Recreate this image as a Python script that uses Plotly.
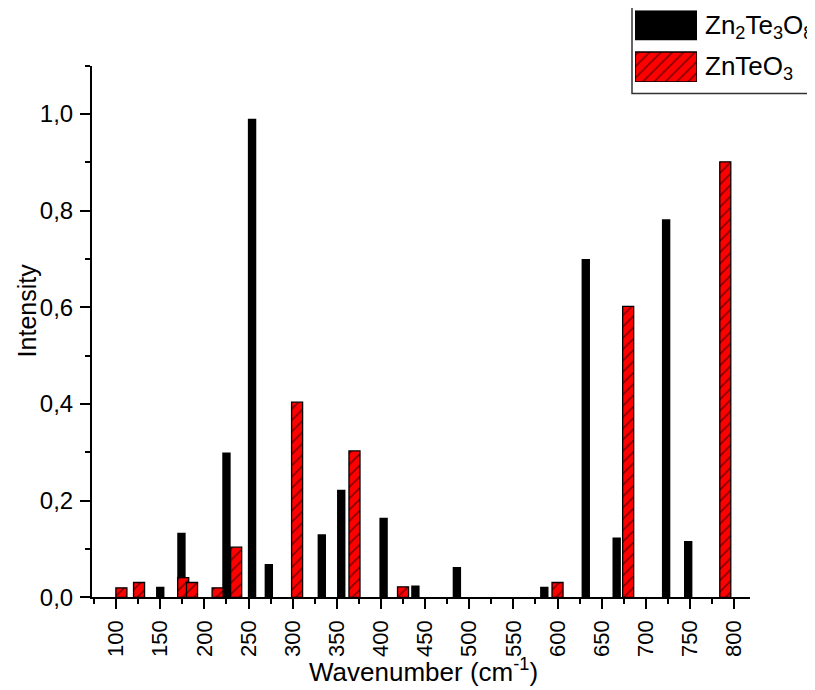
import plotly.graph_objects as go

# Data
zn2_wn = [150, 174, 225, 254, 273, 333, 355, 403, 439, 486, 585, 632, 667, 723, 748]
zn2_int = [0.022, 0.134, 0.30, 0.99, 0.069, 0.131, 0.223, 0.165, 0.025, 0.063, 0.022, 0.70, 0.124, 0.782, 0.117]

znteo3_wn = [106, 126, 176, 186, 215, 236, 305, 370, 425, 600, 680, 790]
znteo3_int = [0.02, 0.031, 0.041, 0.031, 0.02, 0.104, 0.404, 0.303, 0.022, 0.031, 0.602, 0.901]

x_ticks = list(range(100, 801, 50))
y_ticks = [0.0, 0.2, 0.4, 0.6, 0.8, 1.0]

# page body has an 8px margin
OFF = 8
W, H = 815 - OFF, 692
FONT = "Liberation Sans, Arial, sans-serif"

def px_x(p):
    return (p - OFF) / W

def px_y(p):
    # empirical vertical correction of the captured page
    q = (p - 1.5) / 0.982
    return (H - (q - OFF)) / H

HATCH = dict(shape="/", fgcolor="black", bgcolor="#ff0000", size=8, solidity=0.2)

fig = go.Figure()

fig.add_trace(go.Bar(
    x=zn2_wn, y=zn2_int, width=9.5, name="Zn2Te3O8",
    marker=dict(color="black", line=dict(width=0)),
    showlegend=False,
))
fig.add_trace(go.Bar(
    x=znteo3_wn, y=znteo3_int, width=12.5, name="ZnTeO3",
    marker=dict(color="#ff0000", line=dict(color="black", width=1.3), pattern=HATCH),
    showlegend=False,
))

# Legend swatches (separate small axes)
fig.add_trace(go.Bar(
    x=[0.5], y=[30], base=[11.7], width=[1.0], xaxis="x2", yaxis="y2",
    marker=dict(color="black", line=dict(width=0)), showlegend=False, hoverinfo="skip",
))
fig.add_trace(go.Bar(
    x=[0.5], y=[30], base=[53.3], width=[1.0], xaxis="x2", yaxis="y2",
    marker=dict(color="#ff0000", line=dict(color="black", width=1.5), pattern=HATCH),
    showlegend=False, hoverinfo="skip",
))

axis_common = dict(
    showline=True, linecolor="black", linewidth=2, mirror=False,
    showgrid=False, zeroline=False, ticks="outside", tickcolor="black",
    tickwidth=1.5, ticklen=10,
)

fig.update_layout(
    width=W, height=H,
    margin=dict(l=0, r=0, t=0, b=0),
    paper_bgcolor="white", plot_bgcolor="white",
    separators=", ",
    barmode="overlay",
    showlegend=False,
    xaxis=dict(
        domain=[px_x(92), px_x(750)], range=[72.7, 818],
        tickmode="array", tickvals=x_ticks, tickangle=-90, ticklabelstandoff=2,
        tickfont=dict(family=FONT, size=22, color="black"),
        minor=dict(tickmode="linear", tick0=75, dtick=50, ticks="outside", ticklen=5,
                   tickwidth=1.5, tickcolor="black"),
        anchor="y",
        **axis_common,
    ),
    yaxis=dict(
        domain=[px_y(599.3), px_y(67)], range=[0, 1.1],
        tickmode="array", tickvals=y_ticks, tickformat=".1f", ticklabelstandoff=2,
        tickfont=dict(family=FONT, size=24, color="black"),
        minor=dict(tickmode="linear", tick0=0.1, dtick=0.2, ticks="outside", ticklen=5,
                   tickwidth=1.5, tickcolor="black"),
        anchor="x",
        **axis_common,
    ),
    xaxis2=dict(domain=[px_x(635), px_x(697)], range=[0, 1], visible=False,
                anchor="y2", fixedrange=True),
    yaxis2=dict(domain=[px_y(83.3), px_y(11.7)], range=[83.3, 11.7], visible=False,
                anchor="x2", fixedrange=True),
    shapes=[
        dict(type="rect", xref="paper", yref="paper",
             x0=px_x(632), x1=px_x(830), y0=px_y(95), y1=px_y(7),
             line=dict(color="#333333", width=1.5), fillcolor="rgba(0,0,0,0)", layer="below"),
    ],
    annotations=[
        dict(text="Intensity", textangle=-90, xref="paper", yref="paper",
             x=px_x(27), y=px_y(312), showarrow=False,
             font=dict(family=FONT, size=25, color="black"), xanchor="center", yanchor="middle"),
        dict(text="Wavenumber (cm<sup>-1</sup>)", xref="paper", yref="paper",
             x=px_x(424), y=px_y(672), showarrow=False,
             font=dict(family=FONT, size=26, color="black"), xanchor="center", yanchor="middle"),
        dict(text="Zn<sub>2</sub>Te<sub>3</sub>O<sub>8</sub>", xref="paper", yref="paper",
             x=px_x(703), y=px_y(28), showarrow=False,
             font=dict(family=FONT, size=26, color="black"), xanchor="left", yanchor="middle"),
        dict(text="ZnTeO<sub>3</sub>", xref="paper", yref="paper",
             x=px_x(703), y=px_y(69), showarrow=False,
             font=dict(family=FONT, size=26, color="black"), xanchor="left", yanchor="middle"),
    ],
)

fig.write_html("out.html")
